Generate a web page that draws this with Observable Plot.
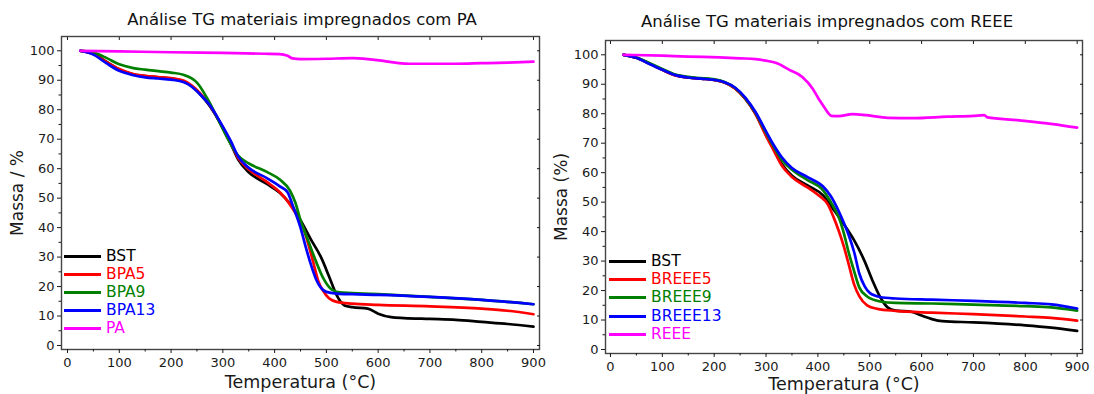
<!DOCTYPE html>
<html><head><meta charset="utf-8">
<script src="https://cdn.jsdelivr.net/npm/d3@7"></script>
<script src="https://cdn.jsdelivr.net/npm/@observablehq/plot@0.6"></script>
<style>
body{margin:0;background:#fff;font-family:"DejaVu Sans",sans-serif;}
#wrap{position:relative;width:1094px;height:394px;overflow:hidden;background:#fff;}
.title{position:absolute;font-size:16.5px;white-space:nowrap;transform:translateX(-50%);color:#111;line-height:20px;}
.panel{position:absolute;top:0;}
.legend{position:absolute;font-size:15.5px;}
.legend .row{position:absolute;left:0;height:18px;display:flex;align-items:center;white-space:nowrap;transform:translateY(-50%);}
.legend .sw{width:37px;height:3px;margin-right:5px;}
g[aria-label="x-axis label"]{font-size:17.5px;}
g[aria-label="y-axis label"]{font-size:17px;}
</style></head>
<body><div id="wrap"></div>
<script>
// ---------- data ----------
const titleLeft = "Análise TG materiais impregnados com PA";
const titleRight = "Análise TG materiais impregnados com REEE";
const seriesLeft = ["BST", "BPA5", "BPA9", "BPA13", "PA"];
const seriesRight = ["BST", "BREEE5", "BREEE9", "BREEE13", "REEE"];
const colors = ["#000000", "#ff0000", "#008000", "#0000ff", "#ff00ff"];
const xMajor = [0, 100, 200, 300, 400, 500, 600, 700, 800, 900];
const xMinor = [50, 150, 250, 350, 450, 550, 650, 750, 850];
const yMajor = [0, 10, 20, 30, 40, 50, 60, 70, 80, 90, 100];
const yMinor = [5, 15, 25, 35, 45, 55, 65, 75, 85, 95];

// Left panel (PA)
const tBST_L = [25,50,75,100,125,150,175,200,225,240,255,275,295,315,330,350,385,410,430,450,470,490,505,520,535,550,580,600,625,650,700,750,800,850,900];
const mBST_L = [100,99.0,96.3,93.6,92.1,91.4,91.0,90.6,89.6,88.0,85.5,81.2,75.5,68.5,63.0,58.8,54.8,51.8,48.0,42.5,36.0,29.8,23.5,17.0,13.6,13.0,12.5,10.8,9.6,9.3,9.0,8.7,8.0,7.3,6.4];
const tBPA5 = [25,50,75,100,125,150,175,200,225,240,255,275,295,315,330,350,385,410,425,440,455,465,475,484,494,505,520,550,600,700,800,850,900];
const mBPA5 = [100,98.8,96.2,93.8,92.2,91.5,91.1,90.7,89.8,88.2,85.8,81.5,75.5,68.8,63.5,59.8,55.5,52.0,49.0,45.0,40.0,34.5,28.0,22.0,18.5,16.0,14.8,14.2,13.8,13.3,12.5,11.8,10.6];
const tBPA9 = [25,50,75,100,125,150,175,200,225,240,250,270,290,310,330,350,385,410,430,440,450,465,480,495,510,525,550,600,700,800,900];
const mBPA9 = [100,99.4,97.6,95.4,94.2,93.6,93.1,92.6,91.8,90.6,89.2,83.8,77.0,70.0,64.3,61.8,58.9,56.3,52.5,48.5,42.5,35.5,28.5,22.5,19.0,18.0,17.8,17.4,16.5,15.5,14.0];
const tBPA13 = [25,50,75,100,125,150,175,200,225,240,255,275,295,315,330,350,385,410,425,435,450,460,470,480,490,500,520,550,600,700,800,900];
const mBPA13 = [100,98.7,95.8,93.2,91.8,91.0,90.6,90.2,89.3,87.8,85.4,81.5,75.8,69.5,64.0,60.3,56.8,54.0,52.0,47.5,40.0,33.5,27.5,22.5,19.5,18.2,17.6,17.4,17.2,16.5,15.5,14.0];
const tPA = [25,100,200,300,380,410,425,435,450,500,550,580,610,640,660,700,750,800,850,900];
const mPA = [100,99.8,99.5,99.3,99.0,98.9,98.3,97.4,97.2,97.3,97.5,97.2,96.6,95.8,95.6,95.6,95.6,95.8,96.0,96.3];

// Right panel (REEE)
const tBST_R = [25,50,75,100,125,150,175,200,220,240,260,280,300,315,330,350,380,410,430,450,470,490,505,520,535,550,580,600,620,640,700,800,850,900];
const mBST_R = [100,99.0,97.0,94.9,93.1,92.3,91.9,91.5,90.6,88.7,85.1,79.9,72.8,67.8,63.0,59.0,55.7,52.3,47.5,42.5,37.0,30.0,23.5,17.8,14.2,13.2,12.8,11.5,10.3,9.6,9.2,8.2,7.4,6.3];
const tBREEE5 = [25,50,75,100,125,150,175,200,220,240,260,280,300,315,330,350,380,400,420,430,440,450,460,470,480,495,515,550,620,700,800,850,900];
const mBREEE5 = [100,99.0,97.0,94.9,93.0,92.3,91.9,91.5,90.6,88.6,85.0,79.8,72.5,67.5,62.5,58.5,55.0,52.5,49.0,45.0,40.4,35.0,28.5,22.0,18.0,15.0,13.8,13.1,12.5,12.0,11.2,10.7,9.8];
const tBREEE9 = [25,50,75,100,125,150,175,200,220,240,260,280,300,315,330,350,380,410,425,440,450,460,470,480,495,520,550,620,700,800,850,900];
const mBREEE9 = [100,99.1,97.2,95.2,93.3,92.5,92.1,91.7,90.8,88.8,85.2,80.2,73.5,68.8,64.5,61.0,57.5,54.0,50.0,45.0,39.5,32.5,26.5,21.0,18.0,16.3,15.8,15.6,15.2,14.7,14.3,13.2];
const tBREEE13 = [25,50,75,100,125,150,175,200,220,240,260,280,300,315,330,350,380,410,425,440,450,460,470,480,490,500,520,550,620,700,800,850,900];
const mBREEE13 = [100,99.0,96.9,94.9,93.1,92.3,91.9,91.5,90.7,88.9,85.5,80.5,74.0,69.3,65.3,61.6,58.5,55.3,52.0,47.0,43.0,38.5,33.0,25.7,21.5,19.2,17.8,17.3,16.9,16.5,15.8,15.3,13.9];
const tREEE = [25,100,150,210,250,280,300,320,345,370,390,400,413,420,426,440,467,494,535,582,650,700,721,727,785,853,900];
const mREEE = [100,99.7,99.4,99.1,98.8,98.5,98.0,97.2,94.9,92.5,88.5,85.5,82.0,80.2,79.3,79.2,79.9,79.5,78.6,78.5,79.0,79.3,79.5,78.75,77.8,76.5,75.3];

// ---------- build ----------
function rowsOf(names, ts, ms) {
  const rows = [];
  names.forEach((n, i) => ts[i].forEach((t, j) => rows.push({s: n, T: t, M: ms[i][j]})));
  return rows;
}
const rowsL = rowsOf(seriesLeft, [tBST_L, tBPA5, tBPA9, tBPA13, tPA], [mBST_L, mBPA5, mBPA9, mBPA13, mPA]);
const rowsR = rowsOf(seriesRight, [tBST_R, tBREEE5, tBREEE9, tBREEE13, tREEE], [mBST_R, mBREEE5, mBREEE9, mBREEE13, mREEE]);

function chart(o) {
  return Plot.plot({
    width: o.width, height: 394,
    marginTop: o.mt, marginBottom: o.mb, marginLeft: o.ml, marginRight: o.mr,
    style: {fontFamily: "DejaVu Sans", fontSize: "13px", color: "#1a1a1a", background: "white"},
    x: {domain: o.xdom},
    y: {domain: [-1.36, 104.85]},
    color: {domain: o.names, range: colors},
    marks: [
      Plot.line(o.rows, {x: "T", y: "M", z: "s", stroke: "s", strokeWidth: 2.7, curve: "monotone-x"}),
      Plot.frame({stroke: "#444", strokeWidth: 1.4}),
      Plot.axisX({ticks: xMajor, tickSize: 4, tickPadding: 4, fontSize: 13, label: "Temperatura (°C)", labelAnchor: "center", labelArrow: "none", labelOffset: o.xlo}),
      Plot.axisX({ticks: xMinor, tickSize: 2.5, text: null, label: null}),
      Plot.axisX({anchor: "top", ticks: xMajor, tickSize: -3, text: null, label: null}),
      Plot.axisY({ticks: yMajor, tickSize: 4, tickPadding: 3, fontSize: 13, label: o.ylabel, labelAnchor: "center", labelArrow: "none", labelOffset: o.ylo}),
      Plot.axisY({ticks: yMinor, tickSize: 2.5, text: null, label: null}),
      Plot.axisY({anchor: "right", ticks: yMajor, tickSize: -3, text: null, label: null})
    ]
  });
}

const wrap = document.getElementById("wrap");
function addPanel(o) {
  const p = document.createElement("div");
  p.className = "panel";
  p.style.left = o.left + "px";
  p.appendChild(chart(o));
  wrap.appendChild(p);
  const t = document.createElement("div");
  t.className = "title";
  t.style.left = o.titleX + "px";
  t.style.top = o.titleY + "px";
  t.textContent = o.title;
  wrap.appendChild(t);
  const lg = document.createElement("div");
  lg.className = "legend";
  lg.style.left = o.lgx + "px";
  lg.style.top = "0px";
  o.names.forEach((n, i) => {
    const r = document.createElement("div");
    r.className = "row";
    r.style.top = o.lgy[i] + "px";
    const sw = document.createElement("div");
    sw.className = "sw";
    sw.style.background = colors[i];
    const tx = document.createElement("span");
    tx.textContent = n;
    tx.style.color = colors[i];
    r.appendChild(sw); r.appendChild(tx);
    lg.appendChild(r);
  });
  wrap.appendChild(lg);
}

addPanel({left: 0, width: 548, mt: 36, mb: 45, ml: 61, mr: 9, xdom: [-11.6, 911.6], rows: rowsL, names: seriesLeft,
  ylabel: "Massa / %", ylo: 51, xlo: 38, title: titleLeft, titleX: 302, titleY: 10, lgx: 64, lgy: [256, 274.3, 292.3, 310, 328.3]});
addPanel({left: 548, width: 546, mt: 40, mb: 41, ml: 57, mr: 12, xdom: [-9.6, 910.3], rows: rowsR, names: seriesRight,
  ylabel: "Massa (%)", ylo: 51, xlo: 36, title: titleRight, titleX: 827, titleY: 12, lgx: 609, lgy: [261, 279.3, 297.3, 316, 334.3]});
</script>
</body></html>
